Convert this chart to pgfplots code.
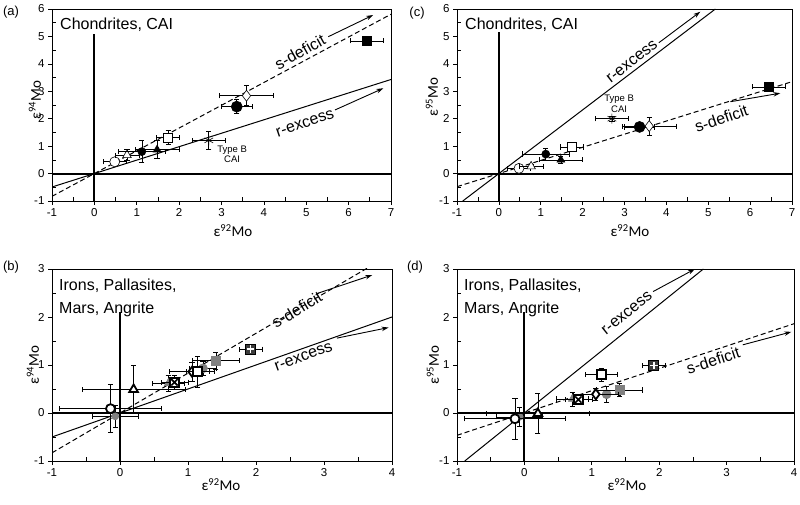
\documentclass[border=0pt]{standalone}
\usepackage{pgfplots}
\pgfplotsset{compat=1.18}
\usepackage{fontspec}
\setmainfont{Liberation Sans}
\newfontfamily\calib{Carlito}
\usetikzlibrary{arrows.meta}
\definecolor{mgray}{RGB}{128,128,128}
\definecolor{dgray}{RGB}{60,60,60}
\newcommand{\fs}[2]{\fontsize{#1}{#2}\selectfont}
\tikzset{ann/.style={font=\fs{16}{18}, inner sep=0pt}}
\pgfplotsset{
  panel/.style={
    scale only axis, anchor=south west, clip mode=individual,
    axis line style={black, line width=0.9pt},
    tick style={black, line width=0.7pt},
    tick align=outside, major tick length=4pt,
    xtick pos=bottom, ytick pos=left,
    ticklabel style={font=\fs{11.5}{13}},
    /pgf/number format/assume math mode=true,
    extra tick style={tick align=inside, major tick length=4pt},
    extra x tick labels={}, extra y tick labels={},
  },
  ebars/.style={error bars/x dir=both, error bars/x explicit, error bars/y dir=both, error bars/y explicit,
    error bars/error bar style={black, line width=0.6pt},
    error bars/error mark options={rotate=90, black, line width=0.6pt, mark size=2.6pt}},
  zl/.style={black, line width=2pt, forget plot},
  rl/.style={black, line width=1pt},
  sl/.style={black, line width=1pt, dash pattern=on 5pt off 3pt},
  arr/.style={black, line width=0.9pt, -{Stealth[length=7pt,width=4.5pt]}},
}
\begin{document}
\begin{tikzpicture}
% ---------------- (a) ----------------
\begin{axis}[panel, at={(52pt,304pt)}, width=339pt, height=192pt,
  xmin=-1, xmax=7, ymin=-1, ymax=6, xtick={-1,...,7}, ytick={-1,...,6},
  extra x ticks={-0.5,0.5,...,6.5}, extra y ticks={-0.5,0.5,...,5.5}]
\addplot[zl] coordinates {(0,-1) (0,5.1)};
\addplot[zl] coordinates {(-1,0) (7,0)};
\addplot[rl] coordinates {(-1,-0.49) (7,3.43)};
\addplot[sl] coordinates {(-1,-0.83) (7,5.81)};
\addplot[arr] coordinates {(5.52,4.99) (6.58,5.78)};
\addplot[arr] coordinates {(5.68,2.32) (6.82,3.11)};
\node[ann, rotate=29] at (axis cs:4.85,4.44) {s-deficit};
\node[ann, rotate=19] at (axis cs:4.97,1.83) {r-excess};
\node[font=\fs{9.5}{10.5}, align=center, inner sep=0pt] at (axis cs:3.25,0.71) {Type B\\CAI};
\node[font=\fs{16}{18}, anchor=north west, inner sep=0pt] at ([xshift=8pt,yshift=-9pt]rel axis cs:0,1) {Chondrites, CAI};
\addplot[only marks, ebars, mark=*, mark size=5pt, mark options={black, fill=white, line width=0.6pt}] coordinates {(0.48,0.43) +- (0.28,0.12)};
\addplot[only marks, ebars, mark=triangle*, mark size=5pt, mark options={black, fill=white, line width=0.6pt}] coordinates {(0.77,0.67) +- (0.28,0.2)};
\addplot[only marks, ebars, mark=*, mark size=4pt, mark options={black, fill=black, line width=0.6pt}] coordinates {(1.12,0.80) +- (0.55,0.4)};
\addplot[only marks, ebars, mark=triangle*, mark size=4.5pt, mark options={black, fill=black, line width=0.6pt}] coordinates {(1.48,0.87) +- (0.52,0.33)};
\addplot[only marks, ebars, mark=square*, mark size=4.5pt, mark options={black, fill=white, line width=0.6pt}] coordinates {(1.74,1.31) +- (0.27,0.25)};
\addplot[only marks, ebars, mark=asterisk, mark size=5pt, mark options={black, line width=0.6pt}] coordinates {(2.70,1.21) +- (0.39,0.33)};
\addplot[only marks, ebars, mark=*, mark size=5.5pt, mark options={black, fill=black, line width=0.6pt}] coordinates {(3.36,2.44) +- (0.36,0.25)};
\addplot[only marks, ebars, mark=diamond*, mark size=5.5pt, mark options={black, fill=white, line width=0.6pt}] coordinates {(3.59,2.84) +- (0.64,0.36)};
\addplot[only marks, ebars, mark=square*, mark size=4.5pt, mark options={black, fill=black, line width=0.6pt}] coordinates {(6.44,4.84) +- (0.39,0.18)};
\end{axis}
% ---------------- (c) ----------------
\begin{axis}[panel, at={(457pt,304pt)}, width=335pt, height=192pt,
  xmin=-1, xmax=7, ymin=-1, ymax=6, xtick={-1,...,7}, ytick={-1,...,6},
  extra x ticks={-0.5,0.5,...,6.5}, extra y ticks={-0.5,0.5,...,5.5}]
\addplot[zl] coordinates {(0,-1) (0,5.15)};
\addplot[zl] coordinates {(-1,0) (7,0)};
\addplot[rl] coordinates {(-0.862,-1) (5.17,6)};
\addplot[sl] coordinates {(-1,-0.478) (7,3.35)};
\addplot[arr] coordinates {(3.82,4.77) (4.81,5.9)};
\addplot[arr] coordinates {(5.53,2.62) (6.72,2.93)};
\node[ann, rotate=38] at (axis cs:3.18,4.08) {r-excess};
\node[ann, rotate=19] at (axis cs:5.31,2.01) {s-deficit};
\node[font=\fs{9.5}{10.5}, align=center, inner sep=0pt] at (axis cs:2.87,2.54) {Type B\\CAI};
\node[font=\fs{16}{18}, anchor=north west, inner sep=0pt] at ([xshift=8pt,yshift=-9pt]rel axis cs:0,1) {Chondrites, CAI};
\addplot[only marks, ebars, mark=*, mark size=5pt, mark options={black, fill=white, line width=0.6pt}] coordinates {(0.48,0.19) +- (0.28,0.06)};
\addplot[only marks, ebars, mark=triangle*, mark size=5pt, mark options={black, fill=white, line width=0.6pt}] coordinates {(0.77,0.26) +- (0.28,0.08)};
\addplot[only marks, ebars, mark=*, mark size=4pt, mark options={black, fill=black, line width=0.6pt}] coordinates {(1.12,0.71) +- (0.55,0.22)};
\addplot[only marks, ebars, mark=triangle*, mark size=4.5pt, mark options={black, fill=black, line width=0.6pt}] coordinates {(1.48,0.50) +- (0.52,0.12)};
\addplot[only marks, ebars, mark=square*, mark size=4.5pt, mark options={black, fill=white, line width=0.6pt}] coordinates {(1.74,0.97) +- (0.27,0.1)};
\addplot[only marks, ebars, mark=asterisk, mark size=5pt, mark options={black, line width=0.6pt}] coordinates {(2.70,2.00) +- (0.39,0.1)};
\addplot[only marks, ebars, mark=*, mark size=5.5pt, mark options={black, fill=black, line width=0.6pt}] coordinates {(3.36,1.70) +- (0.36,0.06)};
\addplot[only marks, ebars, mark=diamond*, mark size=5.5pt, mark options={black, fill=white, line width=0.6pt}] coordinates {(3.59,1.73) +- (0.64,0.32)};
\addplot[only marks, ebars, mark=square*, mark size=4.5pt, mark options={black, fill=black, line width=0.6pt}] coordinates {(6.44,3.16) +- (0.39,0.12)};
\end{axis}
% ---------------- (b) ----------------
\begin{axis}[panel, at={(52pt,44pt)}, width=340pt, height=192pt,
  xmin=-1, xmax=4, ymin=-1, ymax=3, xtick={-1,...,4}, ytick={-1,...,3},
  extra x ticks={-0.5,0.5,...,3.5}, extra y ticks={-0.5,0.5,...,2.5}]
\addplot[zl] coordinates {(0,-1) (0,2.1)};
\addplot[zl] coordinates {(-1,0) (4,0)};
\addplot[rl] coordinates {(-1,-0.5) (4,2.0)};
\addplot[sl] coordinates {(-1,-0.83) (4,3.32)};
\addplot[arr] coordinates {(2.9,2.49) (3.71,2.875)};
\addplot[arr] coordinates {(3.19,1.56) (3.95,1.78)};
\node[ann, rotate=31] at (axis cs:2.6,2.15) {s-deficit};
\node[ann, rotate=20] at (axis cs:2.70,1.17) {r-excess};
\node[font=\fs{16}{23}, anchor=north west, inner sep=0pt, align=left] at ([xshift=7pt,yshift=-10pt]rel axis cs:0,1) {Irons, Pallasites,\\Mars, Angrite};
\addplot[only marks, ebars, mark=*, mark size=3.5pt, mark options={mgray, fill=mgray, line width=0.6pt}] coordinates {(-0.07,-0.07) +- (0.34,0.23)};
\addplot[only marks, ebars, mark=*, mark size=4.5pt, mark options={black, fill=white, line width=1.8pt}] coordinates {(-0.14,0.09) +- (0.75,0.5)};
\addplot[only marks, ebars, mark=triangle*, mark size=5pt, mark options={black, fill=white, line width=1.8pt}] coordinates {(0.20,0.49) +- (0.76,0.5)};
\addplot[only marks, ebars, mark=triangle*, mark size=4.5pt, mark options={mgray, fill=mgray, line width=0.6pt}] coordinates {(0.71,0.62) +- (0.24,0.17)};
\addplot[only marks, ebars, mark=square*, mark size=4.5pt, mark options={black, fill=white, line width=1.6pt}] coordinates {(0.80,0.64) +- (0.2,0.15)};
\addplot[only marks, mark=x, mark size=4.5pt, mark options={black, line width=1.6pt}] coordinates {(0.80,0.64)};
\addplot[only marks, ebars, mark=*, mark size=4.5pt, mark options={mgray, fill=mgray, line width=0.6pt}] coordinates {(1.22,0.93) +- (0.2,0.15)};
\addplot[only marks, ebars, mark=square*, mark size=4.5pt, mark options={mgray, fill=mgray, line width=0.6pt}] coordinates {(1.41,1.09) +- (0.34,0.17)};
\addplot[only marks, ebars, mark=diamond*, mark size=5pt, mark options={black, fill=white, line width=1.8pt}] coordinates {(1.06,0.86) +- (0.33,0.2)};
\addplot[only marks, ebars, mark=square*, mark size=4.5pt, mark options={black, fill=white, line width=1.8pt}] coordinates {(1.14,0.86) +- (0.17,0.32)};
\addplot[only marks, ebars, mark=square*, mark size=5pt, mark options={black, fill=dgray, line width=1.2pt}] coordinates {(1.92,1.33) +- (0.17,0.08)};
\addplot[only marks, mark=+, mark size=3.8pt, mark options={white, line width=1.4pt}] coordinates {(1.92,1.33)};
\end{axis}
% ---------------- (d) ----------------
\begin{axis}[panel, at={(457pt,44pt)}, width=337pt, height=192pt,
  xmin=-1, xmax=4, ymin=-1, ymax=3, xtick={-1,...,4}, ytick={-1,...,3},
  extra x ticks={-0.5,0.5,...,3.5}, extra y ticks={-0.5,0.5,...,2.5}]
\addplot[zl] coordinates {(0,-1) (0,2.1)};
\addplot[zl] coordinates {(-1,0) (4,0)};
\addplot[rl] coordinates {(-0.885,-1) (2.655,3)};
\addplot[sl] coordinates {(-1,-0.465) (4,1.86)};
\addplot[arr] coordinates {(1.91,2.53) (2.53,3.0)};
\addplot[arr] coordinates {(3.24,1.42) (3.96,1.69)};
\node[ann, rotate=39] at (axis cs:1.52,2.08) {r-excess};
\node[ann, rotate=18] at (axis cs:2.80,1.10) {s-deficit};
\node[font=\fs{16}{23}, anchor=north west, inner sep=0pt, align=left] at ([xshift=7pt,yshift=-10pt]rel axis cs:0,1) {Irons, Pallasites,\\Mars, Angrite};
\addplot[only marks, ebars, mark=*, mark size=3.5pt, mark options={mgray, fill=mgray, line width=0.6pt}] coordinates {(-0.07,-0.08) +- (0.34,0.2)};
\addplot[only marks, ebars, mark=*, mark size=4.5pt, mark options={black, fill=white, line width=1.8pt}] coordinates {(-0.14,-0.12) +- (0.75,0.42)};
\addplot[only marks, ebars, mark=triangle*, mark size=5pt, mark options={black, fill=white, line width=1.8pt}] coordinates {(0.20,-0.01) +- (0.76,0.42)};
\addplot[only marks, ebars, mark=triangle*, mark size=4.5pt, mark options={mgray, fill=mgray, line width=0.6pt}] coordinates {(0.71,0.29) +- (0.24,0.15)};
\addplot[only marks, ebars, mark=square*, mark size=4.5pt, mark options={black, fill=white, line width=1.6pt}] coordinates {(0.80,0.28) +- (0.2,0.1)};
\addplot[only marks, mark=x, mark size=4.5pt, mark options={black, line width=1.6pt}] coordinates {(0.80,0.28)};
\addplot[only marks, ebars, mark=*, mark size=4.5pt, mark options={mgray, fill=mgray, line width=0.6pt}] coordinates {(1.22,0.39) +- (0.2,0.17)};
\addplot[only marks, ebars, mark=square*, mark size=4.5pt, mark options={mgray, fill=mgray, line width=0.6pt}] coordinates {(1.41,0.48) +- (0.34,0.14)};
\addplot[only marks, ebars, mark=diamond*, mark size=5pt, mark options={black, fill=white, line width=1.8pt}] coordinates {(1.06,0.39) +- (0.33,0.13)};
\addplot[only marks, ebars, mark=square*, mark size=4.5pt, mark options={black, fill=white, line width=1.8pt}] coordinates {(1.14,0.80) +- (0.24,0.13)};
\addplot[only marks, ebars, mark=square*, mark size=5pt, mark options={black, fill=dgray, line width=1.2pt}] coordinates {(1.92,0.99) +- (0.17,0.06)};
\addplot[only marks, mark=+, mark size=3.8pt, mark options={white, line width=1.4pt}] coordinates {(1.92,0.99)};
\end{axis}
% ---------------- labels ----------------
\node[font=\fs{13}{15}] at (11pt,493pt) {(a)};
\node[font=\fs{13}{15}] at (417pt,492pt) {(c)};
\node[font=\fs{13}{15}] at (11pt,238pt) {(b)};
\node[font=\fs{13}{15}] at (415pt,238pt) {(d)};
\node[font=\calib\fs{15}{17}] at (233pt,274pt) {ε\textsuperscript{92}Mo};
\node[font=\calib\fs{15}{17}] at (630pt,274pt) {ε\textsuperscript{92}Mo};
\node[font=\calib\fs{15}{17}] at (221pt,20pt) {ε\textsuperscript{92}Mo};
\node[font=\calib\fs{15}{17}] at (627pt,20pt) {ε\textsuperscript{92}Mo};
\node[font=\calib\fs{15}{17}, rotate=90] at (35pt,405pt) {ε\textsuperscript{94}Mo};
\node[font=\calib\fs{15}{17}, rotate=90] at (432pt,408pt) {ε\textsuperscript{95}Mo};
\node[font=\calib\fs{15}{17}, rotate=90] at (33pt,140pt) {ε\textsuperscript{94}Mo};
\node[font=\calib\fs{15}{17}, rotate=90] at (433pt,140pt) {ε\textsuperscript{95}Mo};
\pgfresetboundingbox
\useasboundingbox (0,0) rectangle (800pt,505pt);
\end{tikzpicture}
\end{document}
